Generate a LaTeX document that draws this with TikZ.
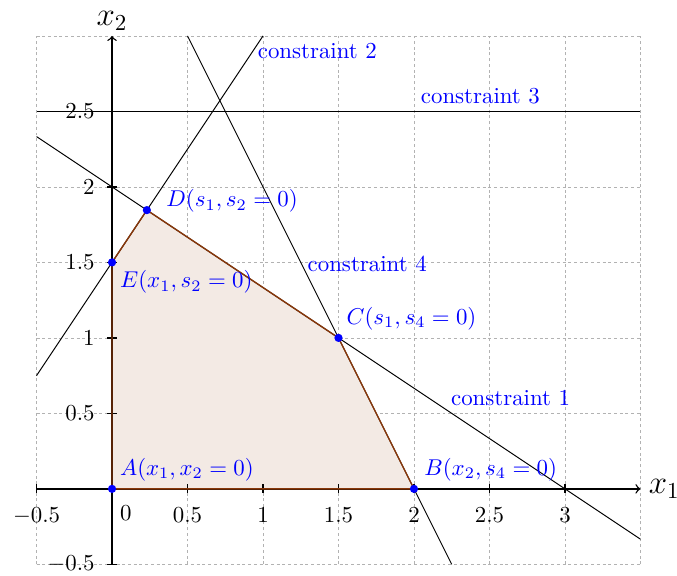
\documentclass[tikz,border=0pt]{standalone}
\usepackage{tikz}
\usetikzlibrary{positioning,calc}
\usepackage{xcolor}
\definecolor{regionfill}{RGB}{243,234,228}
\definecolor{regionedge}{RGB}{135,55,10}

\begin{document}
\begin{tikzpicture}[x=2.32cm, y=2.32cm,
    gridline/.style={gray!60, dash pattern=on 1.3pt off 1.2pt, line width=0.3pt},
    constraint/.style={black, line width=0.4pt},
    cname/.style={blue},
    corner/.style={circle, fill=blue, inner sep=0pt, minimum size=3.6pt},
    cornerlabel/.style={blue},
]
    \useasboundingbox (-0.742,-0.576) rectangle (3.742,3.238);
    \draw[gridline] (-0.5,-0.5) grid[step=0.5] (3.5,3);

    \coordinate (A) at (0,0);
    \coordinate (B) at (2,0);
    \coordinate (C) at (1.5,1);
    \coordinate (D) at (3/13,24/13);
    \coordinate (E) at (0,1.5);

    \fill[regionfill] (A) -- (B) -- (C) -- (D) -- (E) -- cycle;

    \draw[constraint] (-0.5,7/3) -- (3.5,-1/3);
    \draw[constraint] (-0.5,0.75) -- (1,3);
    \draw[constraint] (-0.5,2.5) -- (3.5,2.5);
    \draw[constraint] (0.5,3) -- (2.25,-0.5);

    \draw[->, semithick] (-0.5,0) -- (3.5,0) node[right, font=\Large] (xlab) {$x_1$};
    \draw[->, semithick] (0,-0.5) -- (0,3) node[above, font=\Large, inner sep=2pt] (ylab) {$x_2$};
    \foreach \t in {-0.5,0.5,1,1.5,2,2.5,3}
        \draw[semithick] (\t,0) ++(0,2pt) -- ++(0,-4pt) node[below=2.5pt] {$\t$};
    \foreach \t in {-0.5,0.5,1,1.5,2,2.5}
        \draw[semithick] (0,\t) ++(2pt,0) -- ++(-4pt,0) node[left=2pt] {$\t$};
    \node[below right, yshift=-4pt] (origin) at (A) {$0$};

    \draw[regionedge, line width=0.6pt] (A) -- (B) -- (C) -- (D) -- (E) -- cycle;
    \foreach \p in {A,B,C,D,E}
        \node[corner] at (\p) {};

    \node[cname] (c1) at (2.64,0.60) {constraint 1};
    \node[cname] (c2) at (1.36,2.90) {constraint 2};
    \node[cname] (c3) at (2.44,2.60) {constraint 3};
    \node[cname] (c4) at (1.69,1.49) {constraint 4};

    \node[cornerlabel, above right] (Alab) at (A) {$A(x_1,x_2=0)$};
    \node[cornerlabel, above right, xshift=1pt] (Blab) at (B) {$B(x_2,s_4=0)$};
    \node[cornerlabel, above right] (Clab) at (C) {$C(s_1,s_4=0)$};
    \node[cornerlabel, right, xshift=5pt, yshift=4pt] (Dlab) at (D) {$D(s_1,s_2=0)$};
    \node[cornerlabel, below right] (Elab) at (E) {$E(x_1,s_2=0)$};
\end{tikzpicture}
\end{document}
